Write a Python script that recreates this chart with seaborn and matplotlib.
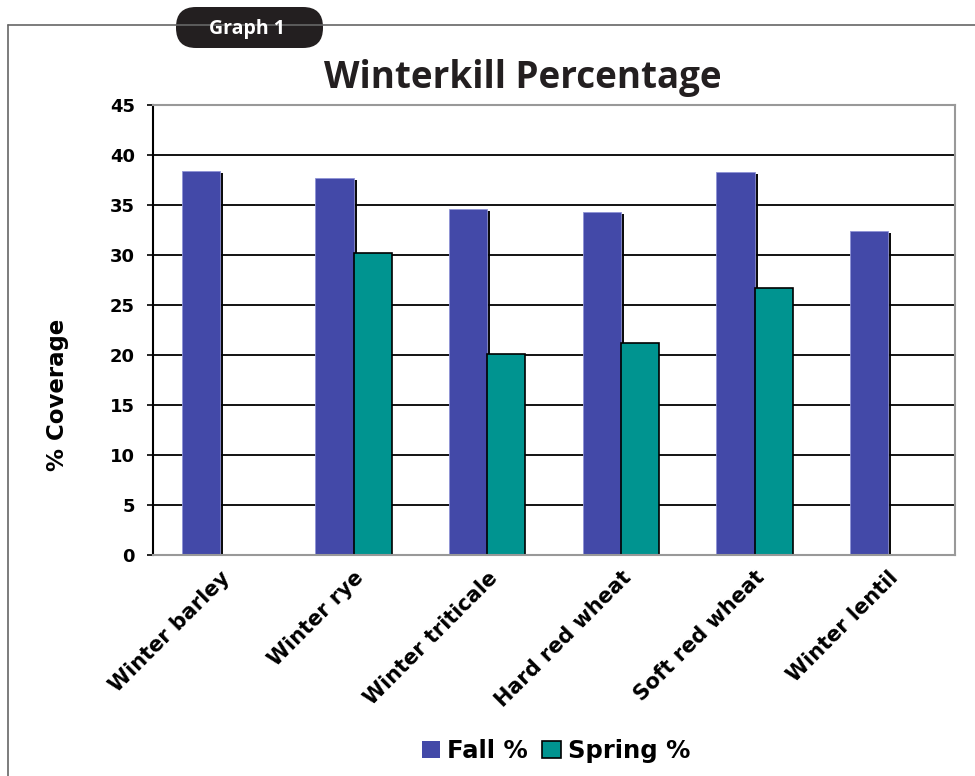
import numpy as np
import pandas as pd
import matplotlib
matplotlib.use("Agg")
import matplotlib.pyplot as plt
import matplotlib.patches as mpatches
import matplotlib.patheffects as pe
from matplotlib.patches import FancyBboxPatch
from matplotlib.lines import Line2D
import seaborn as sns

categories = ["Winter barley", "Winter rye", "Winter triticale", "Hard red wheat",
              "Soft red wheat", "Winter lentil"]
fall_values = [38.4, 37.7, 34.6, 34.3, 38.3, 32.4]
spring_values = [np.nan, 30.2, 20.1, 21.2, 26.7, np.nan]
series_names = ["Fall %", "Spring %"]
y_ticks = [0, 5, 10, 15, 20, 25, 30, 35, 40, 45]

fall_color = "#4349A8"
spring_color = "#009490"

df = pd.DataFrame({
    "category": categories * 2,
    "series": [series_names[0]] * len(categories) + [series_names[1]] * len(categories),
    "value": fall_values + spring_values,
})

sns.set_theme(style="white")
plt.rcParams["font.family"] = ["DejaVu Sans"]
plt.rcParams["font.sans-serif"] = ["DejaVu Sans"]
plt.rcParams["text.color"] = "black"
plt.rcParams["axes.labelcolor"] = "black"
plt.rcParams["xtick.color"] = "black"
plt.rcParams["ytick.color"] = "black"

DV = "DejaVu Sans"

fig = plt.figure(figsize=(9.75, 7.76), dpi=100)
ax = fig.add_axes([153 / 975, 1 - 555 / 776, (955 - 153) / 975, (555 - 105) / 776])

sns.barplot(data=df, x="category", y="value", hue="series", hue_order=series_names,
            order=categories, palette=[fall_color, spring_color], width=0.57,
            ax=ax, legend=False, errorbar=None, saturation=1)

# style bars
fall_cont, spring_cont = ax.containers[0], ax.containers[1]
for p in fall_cont.patches:
    p.set_edgecolor("#8f93d6")
    p.set_linewidth(0.6)
    p.set_path_effects([pe.SimplePatchShadow(offset=(2.2, -1.5), shadow_rgbFace="black", alpha=0.95),
                        pe.Normal()])
for p in spring_cont.patches:
    p.set_edgecolor("black")
    p.set_linewidth(1.2)

ax.set_ylim(0, 45)
ax.set_yticks(y_ticks)
ax.set_yticklabels([str(t) for t in y_ticks], fontsize=13, fontweight="bold", family=DV, color="black")
ax.yaxis.grid(True, color="black", linewidth=1.3)
ax.set_axisbelow(True)
ax.tick_params(axis="y", which="both", left=True, length=4, width=1.2, color="black", pad=9)
ax.tick_params(axis="x", bottom=False, pad=3)

ax.set_xticks(range(len(categories)))
ax.set_xticklabels(categories, rotation=45, ha="right", rotation_mode="anchor",
                   fontsize=15, fontweight="bold", family=DV, color="black")
ax.set_xlabel("")
ax.set_ylabel("% Coverage", fontsize=16.5, fontweight="bold", family=DV, color="black")
ax.yaxis.set_label_coords((58 - 153) / 802, (555 - 395) / 450)
ax.yaxis.label.set_va("center")

ax.spines["left"].set_color("black")
ax.spines["left"].set_linewidth(1.5)
for side in ["top", "right", "bottom"]:
    ax.spines[side].set_color("#999999")
    ax.spines[side].set_linewidth(1.5)

# title
fig.text(523 / 975, 1 - 78 / 776, "Winterkill Percentage", ha="center", va="center",
         fontsize=26.5, fontweight="bold", family="Open Sans", color="#231f20")

# legend
handles = [mpatches.Patch(facecolor=fall_color, edgecolor=fall_color, linewidth=0),
           mpatches.Patch(facecolor=spring_color, edgecolor="black", linewidth=1.2)]
fig.legend(handles=handles, labels=series_names, loc="center",
           bbox_to_anchor=(556 / 975, 1 - 751 / 776), ncol=2, frameon=False,
           prop={"weight": "bold", "size": 17.5, "family": DV}, handlelength=0.75, handleheight=0.75,
           handletextpad=0.3, columnspacing=0.6)

# outer frame
fig.add_artist(Line2D([8 / 975, 1.0], [1 - 25 / 776, 1 - 25 / 776], transform=fig.transFigure,
                      color="#666666", linewidth=1.2))
fig.add_artist(Line2D([8 / 975, 8 / 975], [1 - 25 / 776, 0.0], transform=fig.transFigure,
                      color="#666666", linewidth=1.2))

# Graph 1 tab
tab = FancyBboxPatch((176 / 975, 1 - 48 / 776), (323 - 176) / 975, 41 / 776,
                     boxstyle="round,pad=0,rounding_size=0.0205", transform=fig.transFigure,
                     facecolor="#231f20", edgecolor="none", mutation_aspect=975 / 776)
fig.add_artist(tab)
fig.text(247 / 975, 1 - 29 / 776, "Graph 1", ha="center", va="center", color="white",
         fontsize=14, fontweight="bold", family="Open Sans")

fig.savefig("out.png", dpi=100)
